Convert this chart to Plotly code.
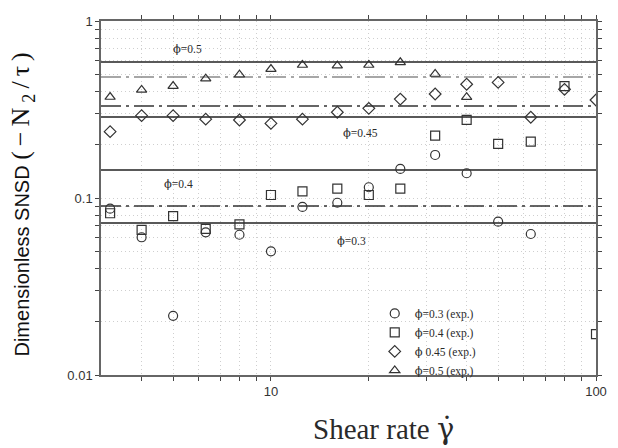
import numpy as np
import plotly.graph_objects as go

# Shear rates (1/s) at which the suspensions were measured
shear_rate = [3.2, 4, 5, 6.3, 8, 10, 12.5, 16, 20, 25, 32, 40, 50, 63, 80, 100]

# Measured dimensionless second normal stress difference, -N2/tau
snsd_phi030 = [0.087, 0.060, 0.0216, 0.064, 0.062, 0.050, 0.089, 0.094,
               0.115, 0.146, 0.175, 0.138, 0.0735, 0.0626]
snsd_phi040 = [0.082, 0.066, 0.079, 0.067, 0.071, 0.104, 0.109, 0.113,
               0.104, 0.113, 0.225, 0.276, 0.202, 0.208, 0.429, 0.017]
snsd_phi045 = [0.237, 0.292, 0.292, 0.279, 0.276, 0.264, 0.279, 0.305,
               0.321, 0.362, 0.387, 0.439, 0.450, 0.286, 0.411, 0.358]
snsd_phi050 = [0.372, 0.408, 0.429, 0.472, 0.497, 0.535, 0.564, 0.559,
               0.564, 0.584, 0.502, 0.371]

PHI = "<span style='font-family:DejaVu Serif'>ϕ</span>"
series_names = [PHI + "=0.3 (exp.)", PHI + "=0.4 (exp.)",
                PHI + " 0.45 (exp.)", PHI + "=0.5 (exp.)"]
series_symbols = ["circle-open", "square-open", "diamond-open", "triangle-up-open"]

# Model predictions drawn as horizontal reference levels
model_solid = [0.587, 0.287, 0.144, 0.0722]
model_dashdot_dark = [0.331, 0.090]
model_dashdot_light = [0.483]
model_labels = [PHI + "=0.5", PHI + "=0.45", PHI + "=0.4", PHI + "=0.3"]

x_span = [3, 100]

# Tick positions (majors plus minor decades) and their labels
x_ticks = [4, 5, 6, 7, 8, 9, 10, 20, 30, 40, 50, 60, 70, 80, 90, 100]
x_tick_text = ["" if v not in (10, 100) else str(v) for v in x_ticks]
y_ticks = [0.01, 0.02, 0.03, 0.04, 0.05, 0.06, 0.07, 0.08, 0.09,
           0.1, 0.2, 0.3, 0.4, 0.5, 0.6, 0.7, 0.8, 0.9, 1]
y_tick_text = {0.01: "0.01", 0.1: "0.1", 1: "1"}

SERIF = "Liberation Serif, Times New Roman, serif"
SANS = "Liberation Sans, Arial, sans-serif"
INK = "#2a2a2a"
DASHDOT = "20px,5px,3px,5px"

fig = go.Figure()

for level in model_solid:
    fig.add_trace(go.Scatter(x=x_span, y=[level, level], mode="lines",
                             line=dict(color="#222222", width=1.6),
                             showlegend=False, hoverinfo="skip"))
for level in model_dashdot_light:
    fig.add_trace(go.Scatter(x=x_span, y=[level, level], mode="lines",
                             line=dict(color="#8a8a8a", width=1.4, dash=DASHDOT),
                             showlegend=False, hoverinfo="skip"))
for level in model_dashdot_dark:
    fig.add_trace(go.Scatter(x=x_span, y=[level, level], mode="lines",
                             line=dict(color="#333333", width=1.5, dash=DASHDOT),
                             showlegend=False, hoverinfo="skip"))

for name, sym, vals in zip(series_names, series_symbols,
                           [snsd_phi030, snsd_phi040, snsd_phi045, snsd_phi050]):
    fig.add_trace(go.Scatter(
        x=shear_rate[:len(vals)], y=vals, mode="markers", name=name,
        marker=dict(symbol=sym, size=9, color="#333333",
                    line=dict(width=1.2, color="#333333")),
    ))

# Labels for the model levels (paper coordinates)
label_pos = [(0.142, 0.92), (0.485, 0.683), (0.124, 0.54), (0.473, 0.379)]
for text, (px, py) in zip(model_labels, label_pos):
    fig.add_annotation(x=px, y=py, xref="paper", yref="paper", text=text,
                       showarrow=False, xanchor="left", yanchor="middle",
                       font=dict(family=SERIF, size=11.5, color=INK))

fig.add_annotation(x=0.571, y=-0.205, xref="paper", yref="paper",
                   text="Shear rate <span style='font-family:DejaVu Serif'>γ̇</span>",
                   showarrow=False,
                   font=dict(family=SERIF, size=29, color=INK))
fig.add_annotation(x=-0.196, y=0.49, xref="paper", yref="paper",
                   textangle=-90, showarrow=False,
                   text=("Dimensionless SNSD "
                         "<span style='font-family:Liberation Serif;font-size:26px;"
                         "letter-spacing:5px'>(−N<sub>2</sub>/τ)</span>"),
                   font=dict(family=SANS, size=20, color="#111111"))

axis_common = dict(
    type="log", showline=True, mirror="ticks", linecolor="#666666",
    linewidth=1.5, ticks="outside", ticklen=4, tickcolor="#444444",
    showgrid=True, gridcolor="#cfcfcf", griddash="1px,3px", gridwidth=1,
    zeroline=False, tickfont=dict(family=SANS, size=13, color="#333333"),
)

fig.update_xaxes(range=[np.log10(x_span[0]), np.log10(x_span[1])],
                 tickmode="array", tickvals=x_ticks, ticktext=x_tick_text,
                 **axis_common)
fig.update_yaxes(range=[-2, 0], tickmode="array", tickvals=y_ticks,
                 ticktext=[y_tick_text.get(v, "") for v in y_ticks],
                 **axis_common)

fig.update_layout(
    width=618, height=448,
    margin=dict(l=101, r=11, t=21, b=73),
    paper_bgcolor="white", plot_bgcolor="white",
    legend=dict(x=0.553, y=0.215, xanchor="left", yanchor="top",
                bgcolor="rgba(0,0,0,0)", font=dict(family=SERIF, size=11.5, color=INK),
                tracegroupgap=0, itemwidth=30),
)

fig.write_html("out.html")
